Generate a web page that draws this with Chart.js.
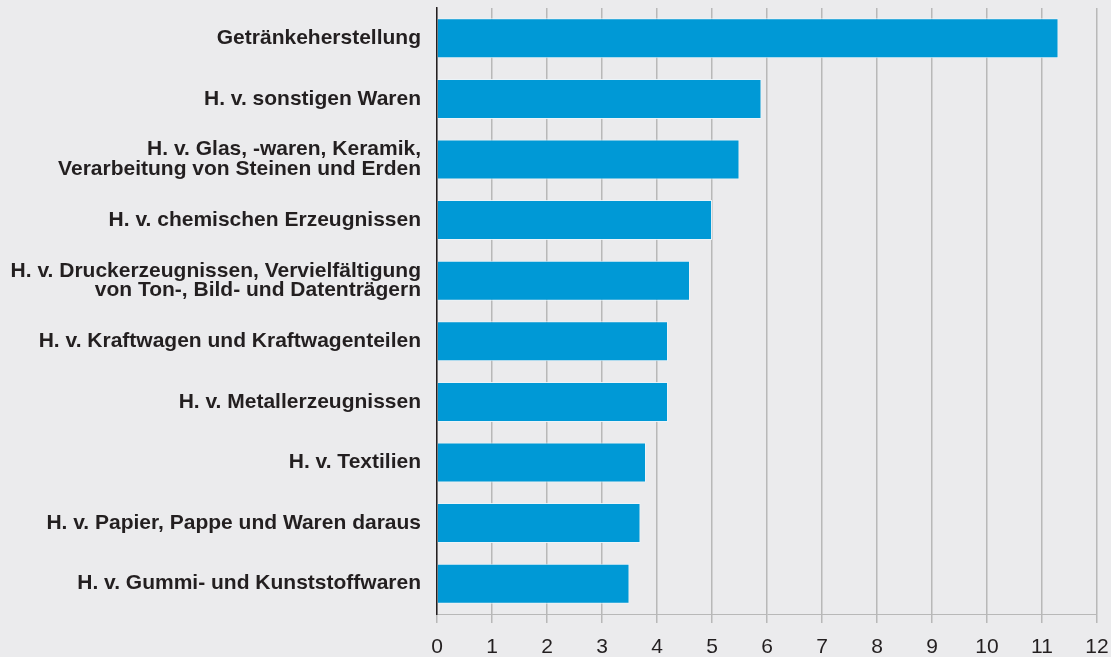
<!DOCTYPE html>
<html>
<head>
<meta charset="utf-8">
<script src="https://cdn.jsdelivr.net/npm/chart.js@4"></script>
<style>
  html, body { margin: 0; padding: 0; background: #ebebed; }
  #wrap { width: 1111px; height: 657px; position: relative; }
</style>
</head>
<body>
<div id="wrap"><canvas id="myChart"></canvas></div>
<script>
let categories = [
    "Getränkeherstellung",
    "H. v. sonstigen Waren",
    ["H. v. Glas, -waren, Keramik,", "Verarbeitung von Steinen und Erden"],
    "H. v. chemischen Erzeugnissen",
    ["H. v. Druckerzeugnissen, Vervielfältigung", "von Ton-, Bild- und Datenträgern"],
    "H. v. Kraftwagen und Kraftwagenteilen",
    "H. v. Metallerzeugnissen",
    "H. v. Textilien",
    "H. v. Papier, Pappe und Waren daraus",
    "H. v. Gummi- und Kunststoffwaren"
];
let values = [11.3, 5.9, 5.5, 5.0, 4.6, 4.2, 4.2, 3.8, 3.7, 3.5];
let xMin = 0;
let xMax = 12;
let xStep = 1;

let ctx = document.getElementById('myChart').getContext('2d');
let chart = new Chart(ctx, {
    type: 'bar',
    data: {
        labels: categories,
        datasets: [{
            data: values,
            backgroundColor: '#0099d6',
            borderColor: 'rgba(235,245,250,0.9)',
            borderWidth: 1,
            categoryPercentage: 1,
            barPercentage: 0.66
        }]
    },
    options: {
        indexAxis: 'y',
        responsive: true,
        maintainAspectRatio: false,
        animation: false,
        layout: {
            padding: { top: 8, right: 14, bottom: 0, left: 0 }
        },
        plugins: {
            legend: { display: false },
            tooltip: { enabled: false }
        },
        scales: {
            x: {
                min: xMin,
                max: xMax,
                ticks: {
                    stepSize: xStep,
                    color: '#231f20',
                    padding: 12,
                    font: { family: 'Liberation Sans', size: 21 }
                },
                grid: {
                    color: '#b8b8b8',
                    lineWidth: 1.5,
                    tickLength: 9
                },
                border: { color: '#b8b8b8', width: 1 },
                afterFit: function(scale) {
                    scale.height = 43;
                    scale.paddingLeft = 0;
                    scale.paddingRight = 0;
                }
            },
            y: {
                ticks: {
                    color: '#231f20',
                    padding: 16,
                    font: { family: 'Liberation Sans', size: 21, weight: 'bold', lineHeight: 0.95 }
                },
                grid: { display: false, drawTicks: false },
                border: { display: true, color: '#231f20', width: 1.5 },
                afterFit: function(scale) {
                    scale.width = 437;
                    scale.paddingTop = 0;
                    scale.paddingBottom = 0;
                }
            }
        }
    }
});
</script>
</body>
</html>
